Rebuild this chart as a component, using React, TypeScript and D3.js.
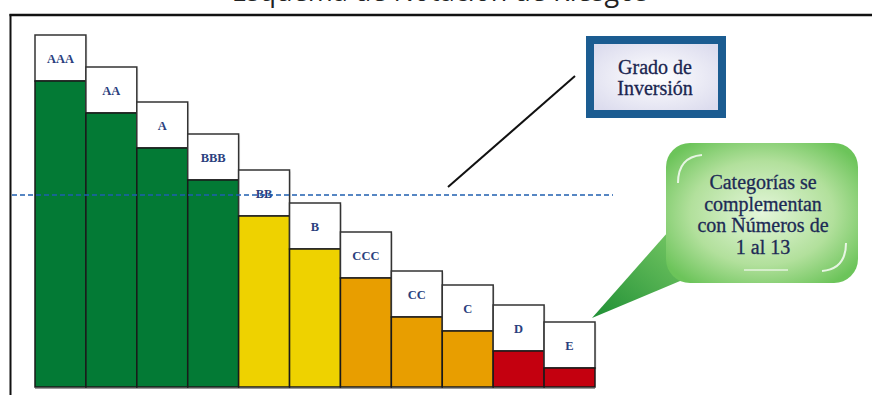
import React from "react";
import * as d3 from "d3";

// Rating categories, from highest to lowest credit quality
const ratings = ["AAA", "AA", "A", "BBB", "BB", "B", "CCC", "CC", "C", "D", "E"];
// Relative quality score of each category (bar height)
const scores = [306, 274, 239, 207, 171, 138, 109, 70, 56, 36, 19];
// Risk tier of each category
const tiers = ["inv", "inv", "inv", "inv", "spec", "spec", "high", "high", "high", "def", "def"];
// Score that separates investment grade from the rest
const investmentGradeCut = 192;

const title = "Esquema de Notación de Riesgos";
const gradeLabel = ["Grado de", "Inversión"];
const noteLabel = ["Categorías se", "complementan", "con Números de", "1 al 13"];

const W = 872;
const H = 395;

const tierColor: Record<string, string> = {
  inv: "#037a35",
  spec: "#eed200",
  high: "#e89e00",
  def: "#c4000f",
};

export default function App() {
  const x = d3.scaleBand<string>().domain(ratings).range([35, 595]).padding(0);
  const y = d3.scaleLinear().domain([0, 306]).range([387, 81]);
  const boxH = 46;
  const cutY = y(investmentGradeCut);

  const serif = "'Liberation Serif', 'DejaVu Serif', serif";

  // Speech bubble with tail pointing down-left
  const bx0 = 666, bx1 = 858, by0 = 143, by1 = 283, r = 24;
  const tail = d3.path();
  tail.moveTo(668, 232);
  tail.lineTo(592, 318);
  tail.lineTo(692, 276);
  tail.closePath();

  return (
    <svg
      width={W}
      height={H}
      style={{ position: "absolute", left: 0, top: 0, background: "#fff" }}
    >
      <defs>
        <radialGradient id="gradeFill" cx="50%" cy="50%" r="65%">
          <stop offset="0%" stopColor="#ffffff" />
          <stop offset="100%" stopColor="#dcdcee" />
        </radialGradient>
        <radialGradient id="bubbleFill" cx="50%" cy="50%" r="62%">
          <stop offset="0%" stopColor="#e4f6da" />
          <stop offset="60%" stopColor="#b2e09c" />
          <stop offset="100%" stopColor="#6cc45a" />
        </radialGradient>
        <linearGradient id="tailFill" x1="1" y1="0" x2="0" y2="1">
          <stop offset="0%" stopColor="#7ccb67" />
          <stop offset="100%" stopColor="#1f8f35" />
        </linearGradient>
      </defs>

      {/* Title, partly cut by the top edge */}
      <text
        x={440}
        y={0.5}
        textAnchor="middle"
        fontFamily="'Open Sans', sans-serif"
        fontSize={27}
        fill="#222"
      >
        {title}
      </text>

      {/* Frame */}
      <line x1={10.5} y1={14} x2={10.5} y2={H} stroke="#111" strokeWidth={2} />
      <line x1={9.5} y1={15} x2={W} y2={15} stroke="#111" strokeWidth={2.5} />

      {/* Bars and label boxes */}
      {ratings.map((r0, i) => {
        const x0 = x(r0)!;
        const bw = x.bandwidth();
        const top = y(scores[i]);
        return (
          <g key={r0}>
            <rect x={x0 + 1.5} y={top - boxH + 1.5} width={bw} height={boxH} fill="#bbb" opacity={0.35} />
            <rect
              x={x0}
              y={top - boxH}
              width={bw}
              height={boxH}
              fill="#fff"
              stroke="#333"
              strokeWidth={1.5}
            />
            <rect
              x={x0}
              y={top}
              width={bw}
              height={y(0) - top}
              fill={tierColor[tiers[i]]}
              stroke="#1a1a1a"
              strokeWidth={1.5}
            />
            <text
              x={x0 + bw / 2}
              y={top - boxH / 2 + 4.5}
              textAnchor="middle"
              fontFamily={serif}
              fontWeight="bold"
              fontSize={12.5}
              fill="#2b3f7e"
            >
              {r0}
            </text>
          </g>
        );
      })}
      <line x1={35} y1={y(0) + 1.5} x2={595} y2={y(0) + 1.5} stroke="#999" strokeWidth={1} />

      {/* Investment grade threshold */}
      <line
        x1={12}
        y1={cutY}
        x2={613}
        y2={cutY}
        stroke="#1f5fb0"
        strokeWidth={1.5}
        strokeDasharray="5,3"
      />

      {/* Pointer to the investment grade box */}
      <line x1={448} y1={187} x2={575} y2={76} stroke="#111" strokeWidth={2} />

      {/* Investment grade box */}
      <rect x={586} y={36} width={140} height={82} fill="#1b5c91" />
      <rect x={594} y={44} width={124} height={66} fill="url(#gradeFill)" />
      {gradeLabel.map((t, i) => (
        <text
          key={t}
          x={655}
          y={74 + i * 21}
          textAnchor="middle"
          fontFamily={serif}
          fontSize={20}
          fill="#1a2550"
          stroke="#1a2550"
          strokeWidth={0.3}
        >
          {t}
        </text>
      ))}

      {/* Note bubble */}
      <path d={tail.toString()} fill="url(#tailFill)" />
      <rect
        x={bx0}
        y={by0}
        width={bx1 - bx0}
        height={by1 - by0}
        rx={r}
        ry={r}
        fill="url(#bubbleFill)"
      />
      <path
        d={`M ${bx0 + 12} ${by0 + 40} Q ${bx0 + 12} ${by0 + 14} ${bx0 + 36} ${by0 + 12}`}
        fill="none"
        stroke="#ffffff"
        strokeWidth={2}
        opacity={0.8}
      />
      <path
        d={`M ${bx1 - 12} ${by1 - 40} Q ${bx1 - 12} ${by1 - 14} ${bx1 - 36} ${by1 - 12}`}
        fill="none"
        stroke="#ffffff"
        strokeWidth={2}
        opacity={0.8}
      />
      <line x1={bx0 + 78} y1={by1 - 13} x2={bx1 - 70} y2={by1 - 13} stroke="#fff" strokeWidth={1.5} opacity={0.7} />
      {noteLabel.map((t, i) => (
        <text
          key={t}
          x={763}
          y={189 + i * 21.7}
          textAnchor="middle"
          fontFamily={serif}
          fontSize={20}
          fill="#1d2a55"
          stroke="#1d2a55"
          strokeWidth={0.3}
        >
          {t}
        </text>
      ))}
    </svg>
  );
}
